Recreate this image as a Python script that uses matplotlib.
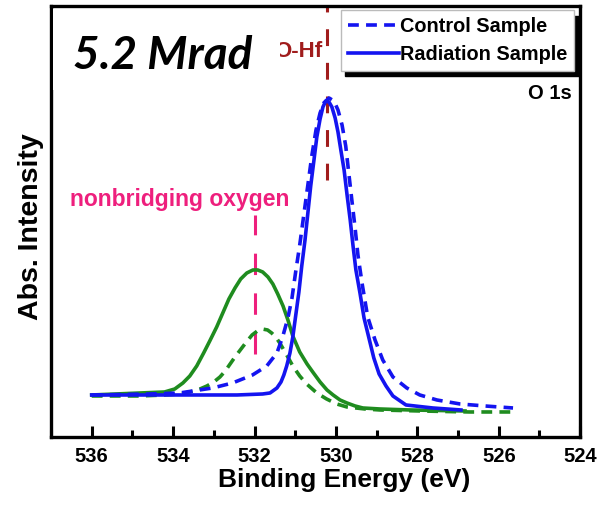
import matplotlib
matplotlib.use("Agg")
import matplotlib.pyplot as plt
from matplotlib.patches import Rectangle
from matplotlib.ticker import MultipleLocator

# O 1s XPS spectra (binding energy in eV, intensity in arbitrary units)
radiation_be = [536.00, 533.34, 532.43, 531.80, 531.62, 531.45, 531.35, 531.28, 531.21,
                531.13, 531.06, 530.99, 530.91, 530.84, 530.76, 530.69, 530.62, 530.54,
                530.47, 530.39, 530.32, 530.25, 530.17, 530.10, 530.02, 529.95, 529.88,
                529.80, 529.73, 529.65, 529.58, 529.51, 529.41, 529.31, 529.19, 529.07,
                528.94, 528.77, 528.60, 528.28, 527.62, 526.93]
radiation_int = [25, 25, 25, 26, 27, 32, 38, 45, 54, 67, 83, 104, 128, 154, 180, 207,
                 234, 260, 283, 301, 313, 319, 318, 313, 302, 288, 270, 250, 226, 200,
                 174, 150, 127, 102, 82, 62, 46, 34, 24, 15, 12, 10]

control_be = [536.00, 534.57, 533.84, 533.03, 532.54, 532.05, 531.70, 531.45, 531.31,
              531.18, 531.08, 530.99, 530.89, 530.79, 530.69, 530.59, 530.49, 530.39,
              530.30, 530.17, 530.05, 529.95, 529.85, 529.76, 529.68, 529.61, 529.53,
              529.46, 529.36, 529.22, 529.04, 528.85, 528.60, 528.26, 527.94, 527.52,
              526.95, 526.34, 525.65]
control_int = [25, 26, 27, 32, 37, 45, 54, 67, 83, 102, 122, 148, 175, 205, 235, 265,
               290, 307, 317, 322, 319, 310, 295, 274, 245, 220, 192, 165, 137, 103,
               80, 60, 43, 32, 25, 20, 16, 14, 12]

nbo_rad_be = [536.00, 534.21, 533.96, 533.76, 533.59, 533.42, 533.25, 533.10, 532.93,
              532.78, 532.63, 532.48, 532.34, 532.19, 532.04, 531.92, 531.80, 531.67,
              531.55, 531.43, 531.30, 531.18, 531.06, 530.89, 530.71, 530.57, 530.39,
              530.22, 530.07, 529.90, 529.73, 529.53, 529.34, 528.92, 528.18, 526.83]
nbo_rad_int = [25, 28, 31, 37, 44, 54, 67, 79, 93, 107, 121, 132, 141, 147, 150, 150,
               148, 143, 136, 126, 114, 100, 84, 68, 56, 48, 38, 30, 25, 20, 17, 14,
               12, 11, 10, 9]

nbo_ctl_be = [536.00, 534.82, 534.20, 533.84, 533.59, 533.34, 533.17, 533.00, 532.85,
              532.72, 532.60, 532.48, 532.35, 532.20, 532.06, 531.93, 531.81, 531.68,
              531.58, 531.48, 531.38, 531.21, 531.06, 530.89, 530.72, 530.47, 530.23,
              529.98, 529.73, 529.29, 528.92, 527.94, 526.71, 525.55]
nbo_ctl_int = [24, 24, 25, 26, 28, 31, 34, 38, 43, 49, 56, 63, 70, 78, 85, 89, 91, 90,
               87, 83, 77, 65, 54, 44, 36, 27, 21, 16, 13, 11, 10, 9, 8, 8]

xticks = [536, 534, 532, 530, 528, 526, 524]
ohf_be = 530.22
nbo_be = 532.0

blue = "#1414f0"
green = "#1f8c1f"
pink = "#ee1f7d"
darkred = "#a01c1c"

plt.rcParams["font.family"] = ["Liberation Sans", "DejaVu Sans"]
plt.rcParams["font.weight"] = "bold"

fig = plt.figure(figsize=(6.0, 5.09), dpi=100)
ax = fig.add_axes([0.085, 0.1415, 0.882, 0.8467])

ax.plot(control_be, control_int, color=blue, lw=2.6, ls=(0, (3, 2)),
        label="Control Sample", zorder=4)
ax.plot(radiation_be, radiation_int, color=blue, lw=2.6, ls="-",
        label="Radiation Sample", zorder=5)
ax.plot(nbo_ctl_be, nbo_ctl_int, color=green, lw=2.6, ls=(0, (3, 2)), zorder=3)
ax.plot(nbo_rad_be, nbo_rad_int, color=green, lw=2.6, ls="-", zorder=3)

# peak-position markers
ax.plot([ohf_be, ohf_be], [240, 414], color=darkred, lw=2.2, ls=(0, (5.5, 5.5)), zorder=2)
ax.plot([nbo_be, nbo_be], [66, 205], color=pink, lw=2.2, ls=(0, (7, 6)), zorder=2)

ax.text(533.83, 220, "nonbridging oxygen", color=pink, fontsize=16.5,
        fontweight="bold", ha="center", va="center", zorder=6)
ax.text(ohf_be + 0.12, 369, "O-Hf", color=darkred, fontsize=16,
        fontweight="bold", ha="right", va="center", zorder=2)
ax.text(524.2, 327, "O 1s", color="black", fontsize=14.5, fontweight="bold",
        ha="right", va="center", zorder=6)

# white panel behind the dose caption (partly hides the O-Hf label)
ax.add_patch(Rectangle((0.004, 0.805), 0.428, 0.188, transform=ax.transAxes,
                       facecolor="white", edgecolor="none", zorder=6))
ax.text(536.45, 364, "5.2 Mrad", family="Lato", fontsize=33, fontweight="bold",
        style="italic", color="black", ha="left", va="center", zorder=7)

ax.set_xlim(537.0, 524.0)
ax.set_ylim(-17, 414)
ax.set_xticks(xticks)
ax.xaxis.set_minor_locator(MultipleLocator(1))
ax.set_yticks([])
ax.tick_params(axis="x", which="major", direction="in", length=8, width=2.2,
               labelsize=14.5, pad=7)
ax.tick_params(axis="x", which="minor", direction="in", length=5, width=2.2)
for lbl in ax.get_xticklabels():
    lbl.set_fontweight("bold")
for sp in ax.spines.values():
    sp.set_linewidth(2.4)

ax.set_xlabel("Binding Energy (eV)", fontsize=19, fontweight="bold")
ax.xaxis.set_label_coords(0.554, -0.071)
ax.set_ylabel("Abs. Intensity", fontsize=20.5, fontweight="bold")
ax.yaxis.set_label_coords(-0.014, 0.487)

leg = ax.legend(loc="upper right", bbox_to_anchor=(0.989, 0.9907), borderaxespad=0.0,
                fontsize=14.3, handlelength=2.6, handletextpad=0.05,
                labelspacing=0.45, borderpad=0.35, fancybox=False,
                shadow={"color": "black", "alpha": 1.0, "ox": 3, "oy": -4})
leg.get_frame().set_edgecolor("#bbbbbb")
leg.get_frame().set_linewidth(1.0)
leg.set_zorder(8)
for t in leg.get_texts():
    t.set_fontweight("bold")

fig.savefig("out.png", dpi=100)
